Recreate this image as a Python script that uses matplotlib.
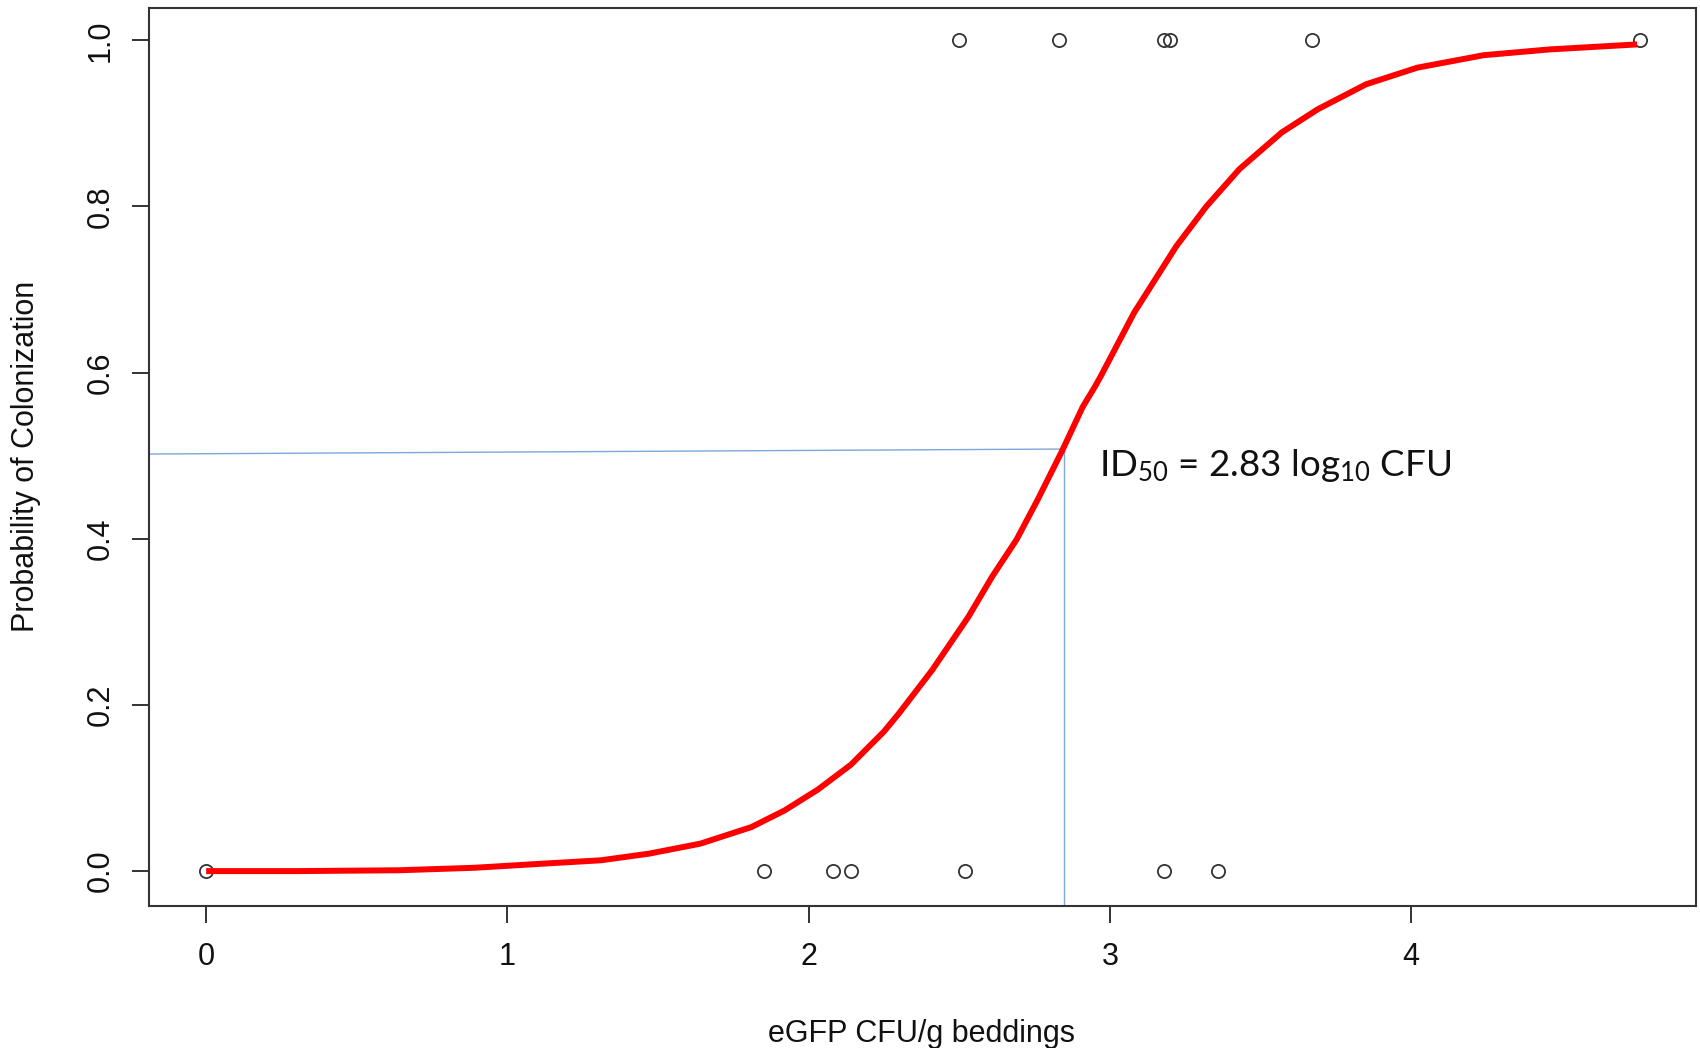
import numpy as np
import matplotlib.pyplot as plt

plt.rcParams['font.family'] = ['Liberation Sans', 'DejaVu Sans']
plt.rcParams['mathtext.fontset'] = 'custom'
plt.rcParams['mathtext.rm'] = 'Lato'
plt.rcParams['mathtext.it'] = 'Lato:italic'

# observed outcomes (log10 CFU/g bedding)
dose_colonized = [2.50, 2.83, 3.18, 3.20, 3.67, 4.76]
dose_not_colonized = [0.00, 1.85, 2.08, 2.14, 2.52, 3.18, 3.36]

# fitted curve
curve_x = [0.00, 0.30, 0.64, 0.89, 1.12, 1.31, 1.47, 1.64, 1.81, 1.92, 2.03,
           2.14, 2.25, 2.30, 2.41, 2.53, 2.61, 2.69, 2.76, 2.84, 2.91,
           2.95, 2.97, 3.08, 3.22, 3.32, 3.43, 3.57, 3.69, 3.85, 4.02,
           4.24, 4.46, 4.75]
curve_y = [0.000, 0.000, 0.001, 0.004, 0.009, 0.013, 0.021, 0.033, 0.053,
           0.073, 0.098, 0.128, 0.168, 0.190, 0.242, 0.306, 0.355,
           0.399, 0.447, 0.505, 0.559, 0.583, 0.596, 0.672, 0.752, 0.800,
           0.845, 0.889, 0.917, 0.947, 0.967, 0.982, 0.989, 0.995]

# hand-drawn ID50 guide lines
id50_x = 2.848
id50_y_left = 0.502
id50_y_right = 0.508

x_ticks = [0, 1, 2, 3, 4]
y_ticks = [0.0, 0.2, 0.4, 0.6, 0.8, 1.0]

fig = plt.figure(figsize=(17, 10.48), dpi=100)
ax = fig.add_axes([0.0876, 0.1355, 0.91, 0.857])
ax.set_xlim(-0.19, 4.945)
ax.set_ylim(-0.042, 1.039)

ax.plot(dose_colonized, np.ones(len(dose_colonized)), 'o', mfc='none',
        mec='#333333', ms=9.5, mew=1.3, zorder=2)
ax.plot(dose_not_colonized, np.zeros(len(dose_not_colonized)), 'o', mfc='none',
        mec='#333333', ms=9.5, mew=1.3, zorder=2)
ax.plot(curve_x, curve_y, color='#ff0000', lw=4.3, solid_capstyle='butt',
        solid_joinstyle='round', zorder=3)

ax.plot([-0.19, id50_x], [id50_y_left, id50_y_right], color='#7fa7d9', lw=1.0, zorder=1)
ax.plot([id50_x, id50_x], [id50_y_right, -0.042], color='#7fa7d9', lw=1.0, zorder=1)

ax.text(2.965, 0.475, r'ID$_{50}$ = 2.83 log$_{10}$ CFU', family='Lato',
        fontsize=26.5, va='baseline', ha='left', color='#111111')

ax.set_xticks(x_ticks)
ax.set_xticklabels([str(t) for t in x_ticks])
ax.set_yticks(y_ticks)
ax.set_yticklabels(['%.1f' % t for t in y_ticks], rotation=90, va='center')
ax.tick_params(length=12, width=1.4, color='#333333', labelsize=22,
               labelcolor='#111111')
ax.tick_params(axis='x', pad=14)
ax.tick_params(axis='y', pad=12)
for s in ax.spines.values():
    s.set_linewidth(1.5)
    s.set_color('#333333')

fig.text(0.5418, 0.0135, 'eGFP CFU/g beddings', fontsize=22, ha='center',
         va='center', color='#111111')
fig.text(0.0153, 0.5649, 'Probability of Colonization', fontsize=22,
         rotation=90, ha='center', va='center', color='#111111')

fig.savefig('out.png', dpi=100)
